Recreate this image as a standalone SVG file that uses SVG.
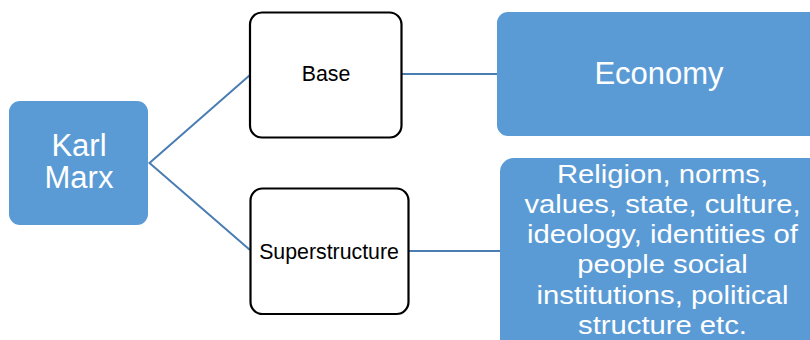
<svg xmlns="http://www.w3.org/2000/svg" width="810" height="340" viewBox="0 0 810 340">
<style>
.blue{fill:#5B9BD5;}
.outline{fill:#FFFFFF;stroke:#000000;stroke-width:2.2;}
.conn{fill:none;stroke:#4A7DB2;stroke-width:2;}
.wt{fill:#FFFFFF;font-family:"Liberation Sans",Arial,sans-serif;text-anchor:middle;}
.bt{fill:#000000;font-family:"Liberation Sans",Arial,sans-serif;text-anchor:middle;font-size:21.3px;}
</style>
<rect width="810" height="340" fill="#FFFFFF"/>
<g id="connectors">
<polyline class="conn" points="250,75 149.5,163 250,250"/>
<line class="conn" x1="401" y1="74" x2="497" y2="74"/>
<line class="conn" x1="408" y1="251" x2="500" y2="251"/>
</g>
<g id="karl-marx">
<rect class="blue" x="9" y="101" width="139" height="124" rx="11"/>
<text class="wt" x="79" y="156" font-size="31">Karl</text>
<text class="wt" x="79" y="188" font-size="31">Marx</text>
</g>
<g id="base">
<rect class="outline" x="250" y="12.5" width="151.5" height="125" rx="12"/>
<text class="bt" x="326" y="80.5">Base</text>
</g>
<g id="superstructure">
<rect class="outline" x="250.5" y="188.5" width="158" height="125.5" rx="12"/>
<text class="bt" x="329" y="258.5">Superstructure</text>
</g>
<g id="economy">
<rect class="blue" x="497" y="12" width="330" height="124" rx="11"/>
<text class="wt" x="659" y="84" font-size="31">Economy</text>
</g>
<g id="superstructure-details">
<rect class="blue" x="500" y="158" width="330" height="200" rx="14"/>
<g transform="translate(662.5,0) scale(1.17,1)" class="wt" font-size="25">
<text x="0" y="183">Religion, norms,</text>
<text x="0" y="213">values, state, culture,</text>
<text x="0" y="243">ideology, identities of</text>
<text x="0" y="273">people social</text>
<text x="0" y="304">institutions, political</text>
<text x="0" y="334">structure etc.</text>
</g>
</g>
</svg>
